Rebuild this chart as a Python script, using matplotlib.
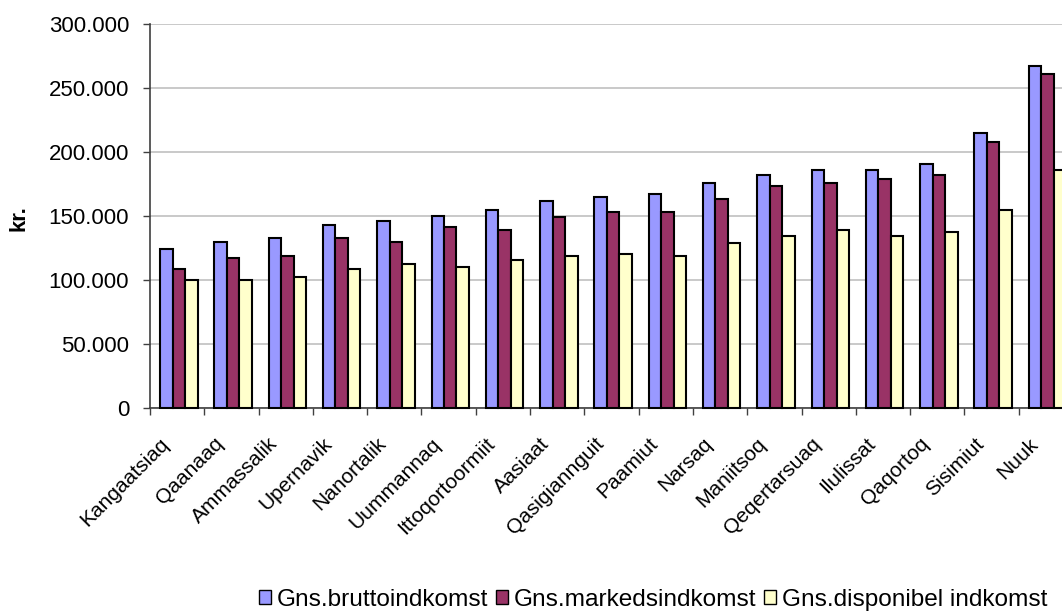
import matplotlib
matplotlib.use("Agg")
import matplotlib.pyplot as plt
import numpy as np
from matplotlib.ticker import FuncFormatter, MultipleLocator
from matplotlib.patches import Patch
from matplotlib.transforms import ScaledTranslation

categories = ["Kangaatsiaq", "Qaanaaq", "Ammassalik", "Upernavik", "Nanortalik",
              "Uummannaq", "Ittoqortoormiit", "Aasiaat", "Qasigiannguit", "Paamiut",
              "Narsaq", "Maniitsoq", "Qeqertarsuaq", "Ilulissat", "Qaqortoq",
              "Sisimiut", "Nuuk"]
brutto = [124000, 129200, 132500, 142700, 146100, 149500, 154700, 161500, 164800,
          166900, 175300, 182000, 185700, 185700, 190400, 214600, 267400]
markeds = [108300, 116900, 118800, 132500, 129200, 140900, 139000, 149200, 153100,
           153100, 163000, 173400, 175300, 178600, 182000, 207800, 260900]
disponibel = [100000, 100000, 101800, 108600, 112000, 110200, 115100, 118500, 120300,
              118500, 128900, 133800, 139100, 134400, 137500, 154700, 185400]
series_names = ["Gns.bruttoindkomst", "Gns.markedsindkomst", "Gns.disponibel indkomst"]
colors = ["#9999FF", "#993366", "#FFFFCC"]

plt.rcParams['font.family'] = ['Liberation Sans', 'DejaVu Sans']

fig = plt.figure(figsize=(10.62, 6.15), dpi=100)
ax = fig.add_axes([150/1062, (615-407.5)/615, (1073-150)/1062, (407.5-24)/615])

x = np.arange(len(categories))
w = 0.23
for i, (vals, c) in enumerate(zip([brutto, markeds, disponibel], colors)):
    ax.bar(x + (i - 1) * w + 0.03, vals, width=w, color=c, edgecolor="black",
           linewidth=1.5, zorder=3, clip_on=False)

ax.set_xlim(-0.5, len(categories) - 0.5)
ax.set_ylim(0, 300000)
ax.yaxis.set_major_locator(MultipleLocator(50000))
ax.yaxis.set_major_formatter(FuncFormatter(lambda v, p: f"{int(v):,}".replace(",", ".")))
ax.grid(axis="y", color="#c0c0c0", linewidth=1.2, zorder=0)
ax.set_axisbelow(True)

ax.set_xticks(x)
ax.set_xticks(np.arange(len(categories) + 1) - 0.5, minor=True)
ax.tick_params(axis="x", which="major", length=0, pad=24)
ax.tick_params(axis="x", which="minor", length=5, width=1, color="#404040")
ax.tick_params(axis="y", length=5, width=1, labelsize=16, color="#404040", pad=10)
ax.set_xticklabels(categories, rotation=45, ha="right", va="center", rotation_mode="anchor",
                   fontsize=15)
off = ScaledTranslation(-11/100, 0, fig.dpi_scale_trans)
for lbl in ax.get_xticklabels():
    lbl.set_transform(lbl.get_transform() + off)

for s in ["top", "right"]:
    ax.spines[s].set_visible(False)
for s in ["left", "bottom"]:
    ax.spines[s].set_color("#404040")
    ax.spines[s].set_linewidth(1.2)

fig.text(19/1062, 1 - 218/615, "kr.", rotation=90, fontsize=16, fontweight="bold",
         ha="center", va="center")

handles = [Patch(facecolor=c, edgecolor="black", linewidth=1.0) for c in colors]
fig.legend(handles, series_names, loc="center", bbox_to_anchor=(653/1062, 1 - 600/615),
           ncol=3, frameon=False, fontsize=17.6, handlelength=0.5, handleheight=0.5,
           handletextpad=0.25, columnspacing=0.3, borderpad=0)

fig.savefig("out.png", dpi=100)
